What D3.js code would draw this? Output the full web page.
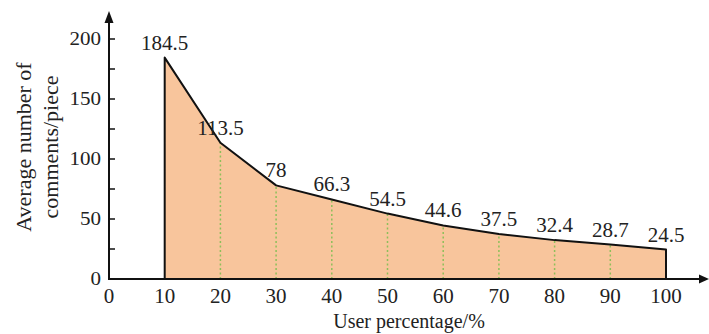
<!DOCTYPE html>
<html>
<head>
<meta charset="utf-8">
<script src="https://cdn.jsdelivr.net/npm/d3@7"></script>
<style>
  html, body { margin: 0; padding: 0; background: #fff; }
  svg { display: block; }
  text { font-family: "Liberation Serif", "Times New Roman", serif; fill: #222; }
</style>
</head>
<body>
<svg id="chart" width="709" height="334"></svg>
<script>
// ---- data ----
const userPct = [10, 20, 30, 40, 50, 60, 70, 80, 90, 100];
const avgComments = [184.5, 113.5, 78, 66.3, 54.5, 44.6, 37.5, 32.4, 28.7, 24.5];
const valueLabels = ["184.5", "113.5", "78", "66.3", "54.5", "44.6", "37.5", "32.4", "28.7", "24.5"];
const xTicks = [0, 10, 20, 30, 40, 50, 60, 70, 80, 90, 100];
const yTicksMajor = [0, 50, 100, 150, 200];
const yTicksMinor = [25, 75, 125, 175];
const xTitle = "User percentage/%";
const yTitleLines = ["Average number of", "comments/piece"];

// ---- layout ----
const svg = d3.select("#chart");
const x = d3.scaleLinear().domain([0, 100]).range([109, 666]);
const y = d3.scaleLinear().domain([0, 200]).range([279, 39]);
const data = userPct.map((u, i) => ({ u, v: avgComments[i], label: valueLabels[i] }));

// filled area
const area = d3.area().x(d => x(d.u)).y0(y(0)).y1(d => y(d.v));
svg.append("path").datum(data)
  .attr("d", area)
  .attr("fill", "#F8C59C")
  .attr("stroke", "none");

// dotted green droplines (interior points)
svg.selectAll("line.drop").data(data.slice(1, -1)).enter().append("line")
  .attr("class", "drop")
  .attr("x1", d => x(d.u)).attr("x2", d => x(d.u))
  .attr("y1", y(0)).attr("y2", d => y(d.v))
  .attr("stroke", "#8DBF5A")
  .attr("stroke-width", 1.5)
  .attr("stroke-dasharray", "2,2.5");

// outline: left edge, top line, right edge
const outline = [{ u: data[0].u, v: 0 }, ...data, { u: data[data.length - 1].u, v: 0 }];
svg.append("path").datum(outline)
  .attr("d", d3.line().x(d => x(d.u)).y(d => y(d.v)))
  .attr("fill", "none")
  .attr("stroke", "#111")
  .attr("stroke-width", 2)
  .attr("stroke-linejoin", "round");

// value labels
svg.selectAll("text.val").data(data).enter().append("text")
  .attr("class", "val")
  .attr("x", d => x(d.u))
  .attr("y", d => y(d.v) - 8)
  .attr("text-anchor", "middle")
  .attr("font-size", 21)
  .text(d => d.label);

// axes
const axisG = svg.append("g");
axisG.append("line")
  .attr("x1", x(0)).attr("x2", 701)
  .attr("y1", y(0)).attr("y2", y(0))
  .attr("stroke", "#111").attr("stroke-width", 2);
axisG.append("path")
  .attr("d", `M709,${y(0)} L699,${y(0) - 4.5} L699,${y(0) + 4.5} Z`)
  .attr("fill", "#111");
axisG.append("line")
  .attr("x1", x(0)).attr("x2", x(0))
  .attr("y1", y(0) + 1).attr("y2", 20)
  .attr("stroke", "#111").attr("stroke-width", 2);
axisG.append("path")
  .attr("d", `M${x(0)},11 L${x(0) - 4.5},23 L${x(0) + 4.5},23 Z`)
  .attr("fill", "#111");

// y ticks (inside, to the right)
axisG.selectAll("line.ytick").data(yTicksMajor.concat(yTicksMinor)).enter().append("line")
  .attr("class", "ytick")
  .attr("x1", x(0)).attr("x2", x(0) + 6)
  .attr("y1", d => y(d)).attr("y2", d => y(d))
  .attr("stroke", "#111").attr("stroke-width", 1.5);

axisG.selectAll("text.ylab").data(yTicksMajor).enter().append("text")
  .attr("class", "ylab")
  .attr("transform", d => `translate(${x(0) - 8},${y(d)}) scale(1.17,1)`)
  .attr("dy", "0.35em")
  .attr("text-anchor", "end")
  .attr("font-size", 18)
  .text(d => d);

axisG.selectAll("text.xlab").data(xTicks).enter().append("text")
  .attr("class", "xlab")
  .attr("x", d => x(d))
  .attr("y", 303)
  .attr("text-anchor", "middle")
  .attr("font-size", 21)
  .text(d => d);

// titles
svg.append("text")
  .attr("x", 409).attr("y", 328)
  .attr("text-anchor", "middle")
  .attr("font-size", 20)
  .text(xTitle);

const yt = svg.append("text")
  .attr("transform", "translate(31,147) rotate(-90)")
  .attr("text-anchor", "middle")
  .attr("font-size", 22);
yTitleLines.forEach((t, i) => {
  yt.append("tspan").attr("x", 0).attr("dy", i === 0 ? 0 : 27).text(t);
});
</script>
</body>
</html>
